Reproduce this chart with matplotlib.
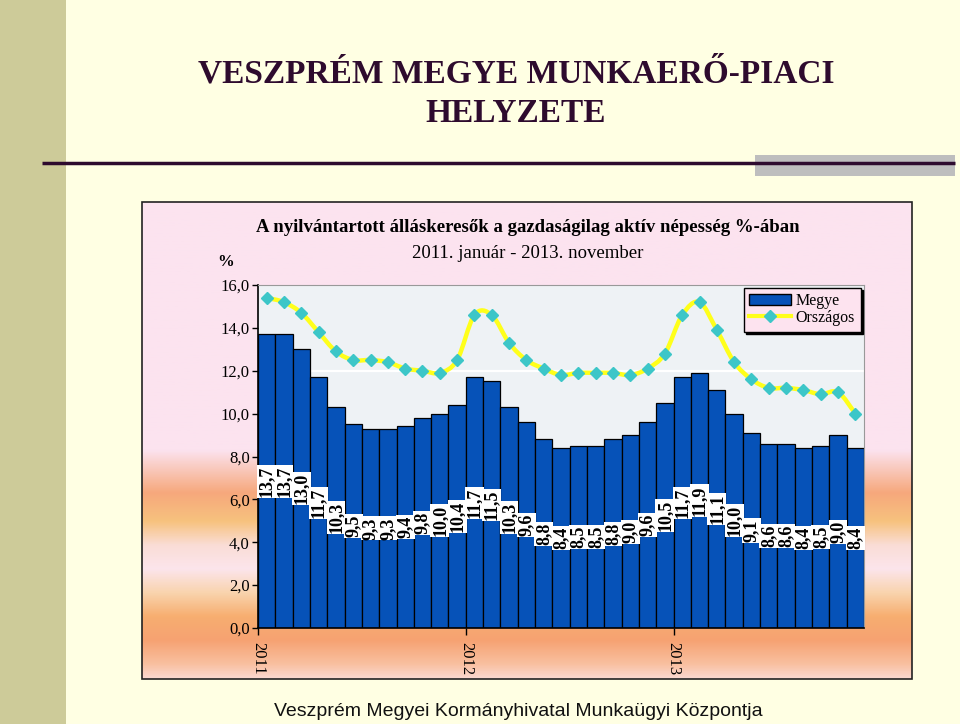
import numpy as np
import matplotlib
matplotlib.use("Agg")
import matplotlib.pyplot as plt
from matplotlib.patches import Rectangle, Patch, PathPatch
from matplotlib.lines import Line2D
from matplotlib.path import Path
from matplotlib.colors import to_rgb

#### DATA #####
years = ["2011", "2012", "2013"]
months_per_year = [12, 12, 11]

# Veszprém megye (bars)
megye = [13.7, 13.7, 13.0, 11.7, 10.3, 9.5, 9.3, 9.3, 9.4, 9.8, 10.0, 10.4,
         11.7, 11.5, 10.3, 9.6, 8.8, 8.4, 8.5, 8.5, 8.8, 9.0, 9.6, 10.5,
         11.7, 11.9, 11.1, 10.0, 9.1, 8.6, 8.6, 8.4, 8.5, 9.0, 8.4]

# Országos (line)
orszagos = [15.4, 15.2, 14.7, 13.8, 12.9, 12.5, 12.5, 12.4, 12.1, 12.0, 11.9, 12.5,
            14.6, 14.6, 13.3, 12.5, 12.1, 11.8, 11.9, 11.9, 11.9, 11.8, 12.1, 12.8,
            14.6, 15.2, 13.9, 12.4, 11.6, 11.2, 11.2, 11.1, 10.9, 11.0, 10.0]

yticks = [0, 2, 4, 6, 8, 10, 12, 14, 16]

SERIF = "Liberation Serif"
SANS = "Liberation Sans"
BAR_BLUE = "#0652B8"
LINE_YELLOW = "#FFFF1A"
MARKER_TEAL = "#3CC6C8"
TITLE_PURPLE = "#2E0B2E"


def comma(v):
	return "{:.1f}".format(v).replace(".", ",")


def smooth_path(xs, ys):
	"""
	Smoothed line through the points (Catmull-Rom as cubic Bezier segments).
	"""
	pts = np.column_stack([xs, ys]).astype(float)
	n = len(pts)
	verts = [pts[0]]
	codes = [Path.MOVETO]
	for i in range(n - 1):
		p0 = pts[i - 1] if i > 0 else pts[i]
		p1 = pts[i]
		p2 = pts[i + 1]
		p3 = pts[i + 2] if i + 2 < n else pts[i + 1]
		c1 = p1 + (p2 - p0) / 6.0
		c2 = p2 - (p3 - p1) / 6.0
		verts += [c1, c2, p2]
		codes += [Path.CURVE4] * 3
	return Path(verts, codes)


def gradient_image(stops, height):
	"""
	Vertical colour gradient: stops are (fraction from top, colour).
	"""
	fr = [s[0] for s in stops]
	cols = np.array([to_rgb(s[1]) for s in stops])
	t = np.linspace(0, 1, height)
	img = np.zeros((height, 1, 3))
	for c in range(3):
		img[:, 0, c] = np.interp(t, fr, cols[:, c])
	return img


W, H = 960, 724
fig = plt.figure(figsize=(W / 100, H / 100), dpi=100)
fig.patch.set_facecolor("#FFFFE3")

# slide decoration in pixel coordinates
bg = fig.add_axes([0, 0, 1, 1])
bg.set_xlim(0, W)
bg.set_ylim(H, 0)
bg.axis("off")
bg.add_patch(Rectangle((0, 0), 66, H, color="#CDCB99", lw=0))
bg.add_patch(Rectangle((755, 155), 200, 21, color="#BEBEBE", lw=0))
bg.plot([42, 955], [163, 163], color="#2E0B2E", lw=2.5, solid_capstyle="butt")

bg.text(516, 74, "VESZPRÉM MEGYE MUNKAERŐ-PIACI", ha="center", va="center",
	fontsize=24, fontweight="bold", family=SERIF, color=TITLE_PURPLE)
bg.text(516, 114, "HELYZETE", ha="center", va="center",
	fontsize=24, fontweight="bold", family=SERIF, color=TITLE_PURPLE)

# chart box with pink / orange gradient
box_l, box_r, box_t, box_b = 142, 912, 202, 679
stops = [(0.0, "#FCE3EF"), (0.52, "#FCE3EF"), (0.61, "#F6A87C"), (0.67, "#F7C27E"),
	(0.72, "#FADDD6"), (0.77, "#FCE5EC"), (0.82, "#F9D4AE"), (0.87, "#F7AE70"),
	(0.92, "#F6A272"), (0.97, "#F9C0A0"), (1.0, "#FBD8D0")]
bg.imshow(gradient_image(stops, 300), extent=[box_l, box_r, box_b, box_t],
	aspect="auto", zorder=1)
bg.add_patch(Rectangle((box_l, box_t), box_r - box_l, box_b - box_t,
	fill=False, ec="#222222", lw=1.2, zorder=2))

bg.text(528, 228, "A nyilvántartott álláskeresők a gazdaságilag aktív népesség %-ában",
	ha="center", va="center", fontsize=13.5, fontweight="bold", family=SERIF, zorder=3)
bg.text(528, 253, "2011. január - 2013. november", ha="center", va="center",
	fontsize=13.5, family=SERIF, zorder=3)
bg.text(226, 262, "%", ha="center", va="center", fontsize=12, fontweight="bold",
	family=SERIF, zorder=3)

bg.text(518, 712, "Veszprém Megyei Kormányhivatal Munkaügyi Központja",
	ha="center", va="center", fontsize=14, family=SANS, color="#111111")

# main plot
ax = fig.add_axes([258 / W, (H - 628) / H, 606 / W, 343 / H])
ax.set_facecolor("#EEF2F5")
x = np.arange(len(megye))

ax.bar(x, megye, width=1.0, color=BAR_BLUE, edgecolor="black", linewidth=0.9, zorder=2)
for xi, v in zip(x, megye):
	ax.text(xi, v / 2.0, comma(v), rotation=90, ha="center", va="center",
		fontsize=13, fontweight="bold", family=SERIF, zorder=4,
		bbox=dict(facecolor="white", edgecolor="none", pad=0.6))

ax.axhline(12, color="white", lw=1.6, zorder=1)

ax.add_patch(PathPatch(smooth_path(x, orszagos), fill=False, edgecolor=LINE_YELLOW,
	lw=3.2, capstyle="round", zorder=3))
ax.plot(x, orszagos, linestyle="none", marker="D", markersize=6,
	markerfacecolor=MARKER_TEAL, markeredgecolor=MARKER_TEAL, zorder=5)

ax.set_xlim(-0.5, len(megye) - 0.5)
ax.set_ylim(0, 16)

ax.set_yticks(yticks)
ax.set_yticklabels([comma(v) for v in yticks], fontsize=12, family=SERIF)
ax.tick_params(axis="y", direction="out", length=4, width=1, pad=2)

# year ticks at the start of each year's first month
starts = np.cumsum([0] + months_per_year[:-1]) - 0.5
ax.set_xticks(starts)
ax.set_xticklabels(years, rotation=-90, fontsize=12, family=SERIF, va="top", ha="center")
ax.tick_params(axis="x", direction="out", length=5, width=1, pad=5)

for s in ["top", "right"]:
	ax.spines[s].set_color("#999999")
	ax.spines[s].set_linewidth(0.8)
for s in ["left", "bottom"]:
	ax.spines[s].set_color("black")
	ax.spines[s].set_linewidth(1.2)

handles = [Patch(facecolor=BAR_BLUE, edgecolor="black"),
	Line2D([], [], color=LINE_YELLOW, lw=3, marker="D", markersize=6,
		markerfacecolor=MARKER_TEAL, markeredgecolor=MARKER_TEAL)]
leg = ax.legend(handles, ["Megye", "Országos"], loc="upper right",
	bbox_to_anchor=(0.997, 0.997), borderaxespad=0.1, fancybox=False,
	shadow={"color": "black", "alpha": 1}, framealpha=1, facecolor="#FDE3EF",
	edgecolor="black", prop={"family": SERIF, "size": 11.5},
	handlelength=2.6, labelspacing=0.05, borderpad=0.35, handletextpad=0.3)
leg.get_frame().set_linewidth(1.0)
leg.set_zorder(6)

fig.savefig("out.png", dpi=100, facecolor=fig.get_facecolor())
